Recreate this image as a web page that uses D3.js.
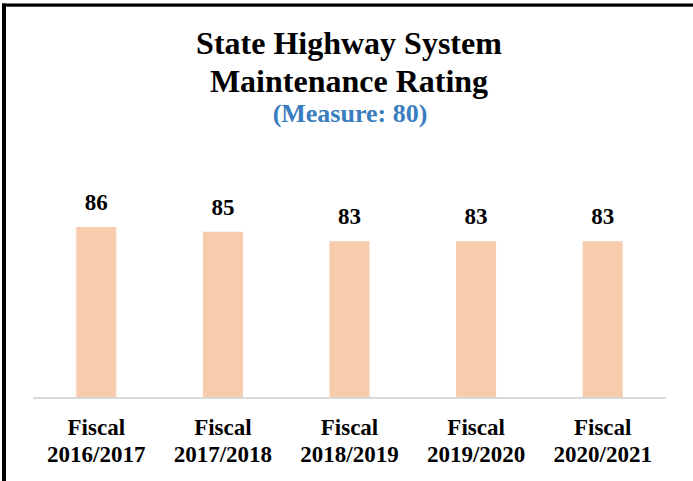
<!DOCTYPE html>
<html>
<head>
<meta charset="utf-8">
<script src="https://cdn.jsdelivr.net/npm/d3@7"></script>
<style>
  body { margin: 0; background: #fff; }
  svg { display: block; font-family: "Liberation Serif", "Times New Roman", serif; }
</style>
</head>
<body>
<svg id="chart"></svg>
<script>
// values
const years = ["2016/2017", "2017/2018", "2018/2019", "2019/2020", "2020/2021"];
const ratings = [86, 85, 83, 83, 83];
const titleLines = ["State Highway System", "Maintenance Rating"];
const subtitle = "(Measure: 80)";

const width = 693, height = 481;
const margin = { top: 208, right: 27, bottom: 83, left: 33 };

const svg = d3.select("#chart").attr("width", width).attr("height", height);

// frame: thick left + top border, faint grey under the top one
svg.append("line").attr("x1", 2).attr("x2", width).attr("y1", 6.5).attr("y2", 6.5)
    .attr("stroke", "#999").attr("stroke-width", 1);
svg.append("line").attr("x1", 2).attr("x2", width).attr("y1", 5).attr("y2", 5)
    .attr("stroke", "#000").attr("stroke-width", 3);
svg.append("line").attr("x1", 4).attr("x2", 4).attr("y1", 3.5).attr("y2", height)
    .attr("stroke", "#000").attr("stroke-width", 4);

const x = d3.scaleBand()
    .domain(years)
    .range([margin.left, width - margin.right])
    .paddingInner(0.684)
    .paddingOuter(0.342);

// axis does not start at zero in the source
const y = d3.scaleLinear()
    .domain([50, 90])
    .range([height - margin.bottom, margin.top]);

// title
svg.append("g").selectAll("text")
    .data(titleLines)
    .join("text")
    .attr("x", 349)
    .attr("y", (d, i) => 54 + i * 38)
    .attr("text-anchor", "middle")
    .attr("font-size", 32)
    .attr("font-weight", "bold")
    .attr("fill", "#000")
    .text(d => d);

svg.append("text")
    .attr("x", 350)
    .attr("y", 122)
    .attr("text-anchor", "middle")
    .attr("font-size", 26)
    .attr("font-weight", "bold")
    .attr("fill", "#3a7dbf")
    .text(subtitle);

// bars
svg.append("g").selectAll("rect")
    .data(ratings)
    .join("rect")
    .attr("x", (d, i) => x(years[i]))
    .attr("y", d => y(d))
    .attr("width", x.bandwidth())
    .attr("height", d => y(50) - y(d))
    .attr("fill", "#f8cbad");

// value labels
svg.append("g").selectAll("text")
    .data(ratings)
    .join("text")
    .attr("x", (d, i) => x(years[i]) + x.bandwidth() / 2)
    .attr("y", d => y(d) - 17)
    .attr("text-anchor", "middle")
    .attr("font-size", 23)
    .attr("font-weight", "bold")
    .text(d => d);

// x axis
const xAxis = svg.append("g")
    .attr("transform", `translate(0,${height - margin.bottom})`)
    .call(d3.axisBottom(x).tickSize(0).tickFormat(""));
xAxis.select(".domain").attr("stroke", "#d9d9d9").attr("stroke-width", 2)
    .attr("d", `M${margin.left},0H${width - margin.right}`);

xAxis.selectAll(".tick").each(function (d) {
  const t = d3.select(this).select("text")
      .attr("fill", "#000")
      .attr("font-family", "Liberation Serif, Times New Roman, serif")
      .attr("font-size", 23)
      .attr("font-weight", "bold")
      .attr("y", 0)
      .attr("dy", null);
  t.append("tspan").attr("x", 0).attr("y", 37).text("Fiscal");
  t.append("tspan").attr("x", 0).attr("y", 64).text(d);
});
</script>
</body>
</html>
